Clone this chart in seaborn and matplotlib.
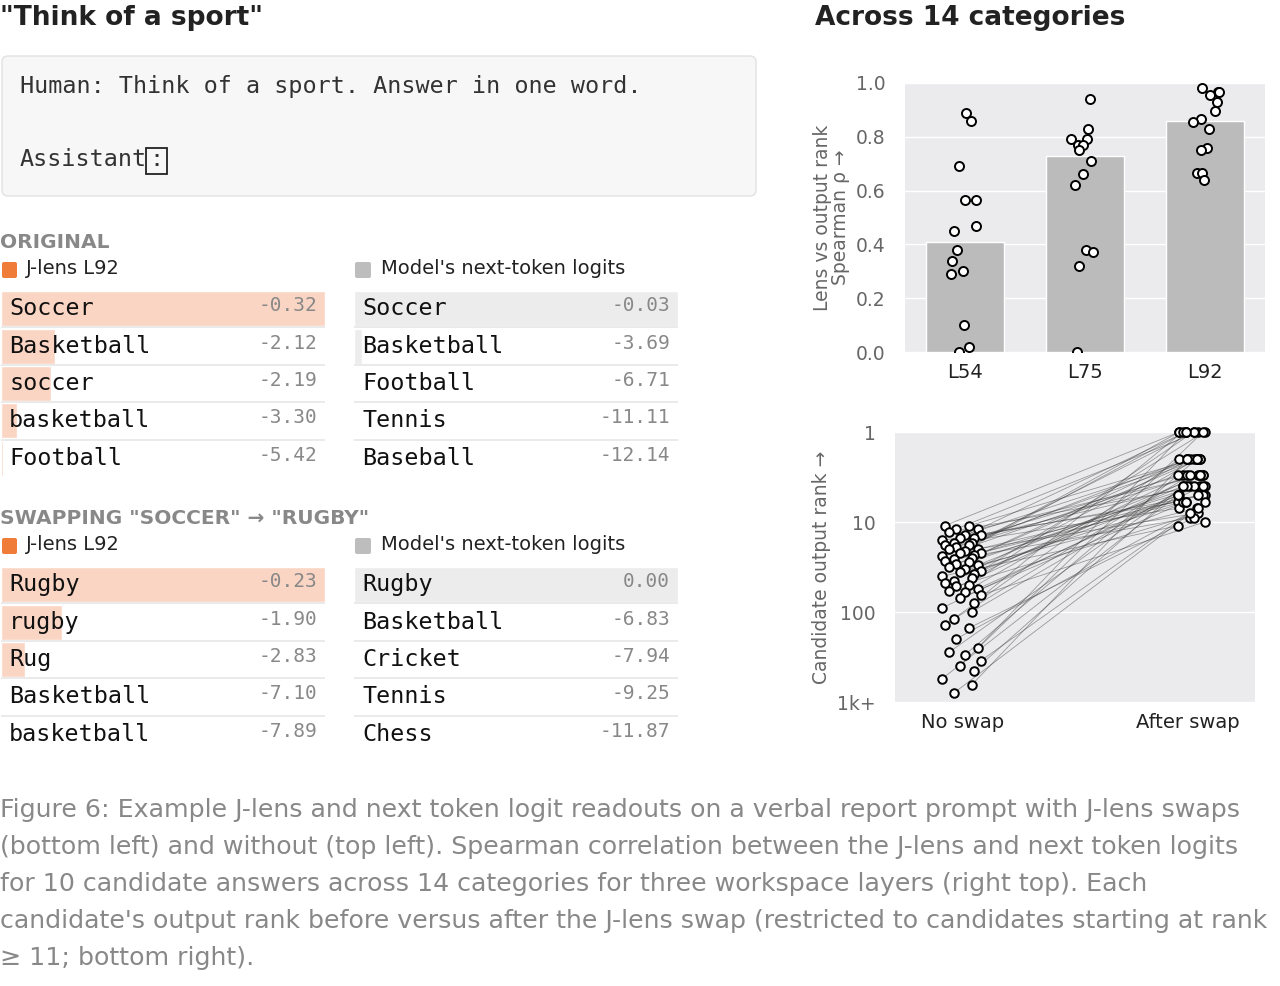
import matplotlib.pyplot as plt
import numpy as np
import pandas as pd
import seaborn as sns
from matplotlib.patches import FancyBboxPatch, Rectangle

# --- data ---
orig_lens_tokens = ["Soccer", "Basketball", "soccer", "basketball", "Football"]
orig_lens_logits = [-0.32, -2.12, -2.19, -3.30, -5.42]
orig_model_tokens = ["Soccer", "Basketball", "Football", "Tennis", "Baseball"]
orig_model_logits = [-0.03, -3.69, -6.71, -11.11, -12.14]
swap_lens_tokens = ["Rugby", "rugby", "Rug", "Basketball", "basketball"]
swap_lens_logits = [-0.23, -1.90, -2.83, -7.10, -7.89]
swap_model_tokens = ["Rugby", "Basketball", "Cricket", "Tennis", "Chess"]
swap_model_logits = [0.00, -6.83, -7.94, -9.25, -11.87]

layers = ["L54", "L75", "L92"]
layer_means = [0.41, 0.73, 0.86]
rho_l54 = [0.89, 0.86, 0.69, 0.565, 0.565, 0.47, 0.45, 0.38, 0.34, 0.30, 0.29, 0.10, 0.02, 0.0]
rho_l75 = [0.94, 0.83, 0.79, 0.79, 0.77, 0.77, 0.75, 0.71, 0.66, 0.62, 0.38, 0.37, 0.32, 0.0]
rho_l92 = [0.98, 0.965, 0.965, 0.955, 0.93, 0.895, 0.865, 0.855, 0.83, 0.76, 0.75, 0.665, 0.665, 0.64]

rank_before = [11, 11, 12, 12, 13, 14, 14, 15, 15, 16, 17, 17, 18, 18, 19, 20, 20, 21, 22, 22,
               23, 24, 25, 26, 27, 28, 29, 30, 32, 33, 35, 36, 38, 40, 42, 45, 48, 50, 52, 55,
               58, 60, 65, 70, 80, 90, 100, 120, 140, 150, 200, 250, 280, 300, 350, 400, 450, 550, 650, 800]
rank_after = [1, 2, 1, 3, 4, 2, 5, 1, 3, 6, 2, 4, 7, 1, 3, 5, 2, 8, 4, 1,
              6, 3, 2, 9, 1, 4, 5, 3, 2, 7, 1, 6, 4, 11, 3, 2, 5, 1, 8, 4,
              3, 2, 10, 6, 1, 5, 4, 3, 2, 9, 7, 1, 3, 2, 6, 1, 4, 5, 2, 8]

caption = ("Figure 6: Example J-lens and next token logit readouts on a verbal report prompt with J-lens swaps\n"
           "(bottom left) and without (top left). Spearman correlation between the J-lens and next token logits\n"
           "for 10 candidate answers across 14 categories for three workspace layers (right top). Each\n"
           "candidate's output rank before versus after the J-lens swap (restricted to candidates starting at rank\n"
           "\u2265 11; bottom right).")

W, H = 1280, 986
ORANGE = "#f07c3a"
ORANGE_L = "#fad5c3"
GRAY_L = "#ececec"

sns.set_theme(style="darkgrid", rc={"axes.facecolor": "#ebebed", "grid.color": "white"})
plt.rcParams["font.family"] = ["DejaVu Sans"]

fig = plt.figure(figsize=(W / 100, H / 100), dpi=100)
bg = fig.add_axes([0, 0, 1, 1])
bg.set_xlim(0, W)
bg.set_ylim(H, 0)
bg.axis("off")


def px_axes(x, y, w, h):
    return fig.add_axes([x / W, 1 - (y + h) / H, w / W, h / H])


# left titles and prompt box
bg.text(0, 18, '"Think of a sport"', fontsize=19, fontweight="bold", color="#222", va="center")
bg.text(815, 18, "Across 14 categories", fontsize=19, fontweight="bold", color="#222", va="center")
bg.add_patch(FancyBboxPatch((2, 56), 754, 140, boxstyle="round,pad=0,rounding_size=6",
                            fc="#f7f7f7", ec="#e2e2e2", lw=1))
bg.text(20, 86, "Human: Think of a sport. Answer in one word.", family="DejaVu Sans Mono",
        fontsize=16.8, color="#333", va="center")
bg.text(20, 160, "Assistant", family="DejaVu Sans Mono", fontsize=16.8, color="#333", va="center")
bg.text(149, 160, ":", family="DejaVu Sans Mono", fontsize=16.8, color="#333", va="center")
bg.add_patch(Rectangle((146, 148), 21, 26, fc="none", ec="#222", lw=1.3))


def draw_table(x, y, tokens, logits, color):
    ax = px_axes(x, y, 324, 187)
    probs = np.exp(np.array(logits)) / np.exp(max(logits))
    df = pd.DataFrame({"row": range(5), "p": probs})
    ax.barh(df["row"], df["p"], height=0.94, color=color, zorder=1)
    ax.set_xlim(0, 1)
    ax.set_ylim(4.5, -0.5)
    ax.set_facecolor("white")
    ax.grid(False)
    for s in ax.spines.values():
        s.set_visible(False)
    ax.set_xticks([])
    ax.set_yticks([])
    for i in range(4):
        ax.axhline(i + 0.5, color="#e6e6e6", lw=1.2, zorder=2)
    for i, (t, v) in enumerate(zip(tokens, logits)):
        ax.text(0.025, i, t, family="DejaVu Sans Mono", fontsize=16.8, color="#111", va="center")
        ax.text(0.975, i - 0.08, f"{v:.2f}", family="DejaVu Sans Mono", fontsize=14, color="#888",
                va="center", ha="right")


def draw_section(y0, title, lt, lv, mt, mv):
    bg.text(0, y0, title, fontsize=14.5, fontweight="bold", color="#888", va="center")
    bg.add_patch(FancyBboxPatch((2, y0 + 20), 15, 16, boxstyle="round,pad=0,rounding_size=2",
                                fc=ORANGE, ec="none"))
    bg.text(26, y0 + 27, "J-lens L92", fontsize=14, color="#222", va="center")
    bg.add_patch(FancyBboxPatch((355, y0 + 20), 16, 16, boxstyle="round,pad=0,rounding_size=2",
                                fc="#bdbdbd", ec="none"))
    bg.text(381, y0 + 27, "Model's next-token logits", fontsize=14, color="#222", va="center")
    draw_table(1, y0 + 48, lt, lv, ORANGE_L)
    draw_table(354, y0 + 48, mt, mv, GRAY_L)


draw_section(242, "ORIGINAL", orig_lens_tokens, orig_lens_logits, orig_model_tokens, orig_model_logits)
draw_section(518, 'SWAPPING "SOCCER" \u2192 "RUGBY"', swap_lens_tokens, swap_lens_logits,
             swap_model_tokens, swap_model_logits)

# top right: bars + points
ax1 = px_axes(905, 83, 360, 269)
bar_df = pd.DataFrame({"layer": layers, "mean": layer_means})
sns.barplot(data=bar_df, x="layer", y="mean", color="#bbbbbb", saturation=1, width=0.65, ax=ax1, zorder=1)
pts = pd.DataFrame({"layer": ["L54"] * 14 + ["L75"] * 14 + ["L92"] * 14,
                    "rho": rho_l54 + rho_l75 + rho_l92})
np.random.seed(3)
sns.stripplot(data=pts, x="layer", y="rho", jitter=0.12, facecolor="white", edgecolor="black",
              linewidth=1.4, size=6.5, ax=ax1, zorder=3)
ax1.set_ylim(0, 1.0)
ax1.set_xlim(-0.5, 2.5)
ax1.set_yticks([0, 0.2, 0.4, 0.6, 0.8, 1.0])
ax1.set_yticklabels(["0.0", "0.2", "0.4", "0.6", "0.8", "1.0"])
ax1.set_xlabel("")
ax1.set_ylabel("Lens vs output rank\nSpearman \u03c1 \u2192", fontsize=13.5, color="#666", linespacing=0.95)
ax1.tick_params(axis="y", labelsize=13.5, labelcolor="#666", pad=8)
ax1.tick_params(axis="x", labelsize=14, labelcolor="#222", pad=2)
ax1.grid(axis="x", visible=False)
for s in ax1.spines.values():
    s.set_visible(False)

# bottom right: rank before vs after
ax2 = px_axes(895, 432, 360, 270)
offs = [-0.08, 0.03, -0.03, 0.07, -0.06, 0.01, 0.08, -0.01, 0.05, -0.09, 0.04, -0.04]
x_before = [0 + offs[i % len(offs)] for i in range(len(rank_before))]
x_after = [1.02 + offs[(i * 5) % len(offs)] * 0.7 for i in range(len(rank_after))]
for xb, yb, xa, ya in zip(x_before, rank_before, x_after, rank_after):
    ax2.plot([xb, xa], [yb, ya], color="#333", lw=0.6, alpha=0.45, zorder=2)
sc_df = pd.DataFrame({"x": x_before + x_after, "rank": rank_before + rank_after})
sns.scatterplot(data=sc_df, x="x", y="rank", facecolor="white", edgecolor="black", linewidth=1.4,
                s=38, ax=ax2, zorder=3, clip_on=False)
ax2.set_yscale("log")
ax2.set_ylim(1000, 1)
ax2.set_xlim(-0.3, 1.3)
ax2.set_yticks([1, 10, 100, 1000])
ax2.set_yticklabels(["1", "10", "100", "1k+"])
ax2.minorticks_off()
ax2.set_xticks([0, 1])
ax2.set_xticklabels(["No swap", "After swap"])
ax2.set_xlabel("")
ax2.set_ylabel("Candidate output rank \u2192", fontsize=13.5, color="#666")
ax2.tick_params(axis="y", labelsize=13.5, labelcolor="#666", pad=8)
ax2.tick_params(axis="x", labelsize=14, labelcolor="#222", pad=2)
ax2.grid(axis="x", visible=False)
for s in ax2.spines.values():
    s.set_visible(False)

bg.text(0, 798, caption, fontsize=18.2, color="#888", va="top", linespacing=1.68)

fig.savefig("out.png", dpi=100)
